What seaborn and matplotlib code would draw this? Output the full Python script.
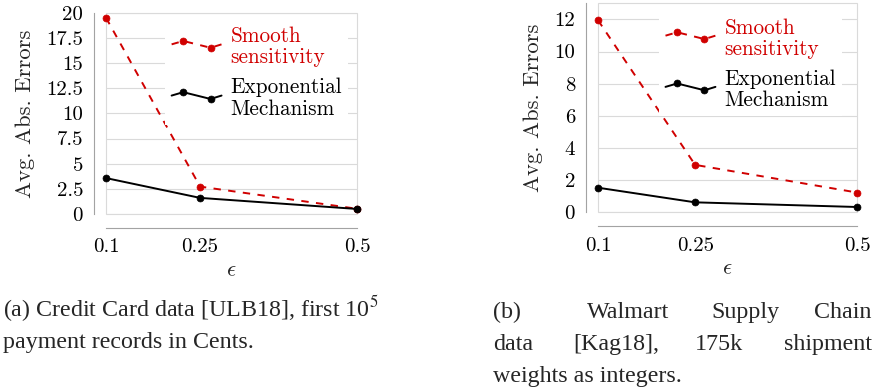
import numpy as np
import pandas as pd
import seaborn as sns
import matplotlib
matplotlib.use("Agg")
import matplotlib.pyplot as plt
from matplotlib.legend_handler import HandlerBase
from matplotlib.lines import Line2D

# ---------------- data ----------------
eps = [0.1, 0.25, 0.5]
eps_labels = ["0.1", "0.25", "0.5"]

cc_smooth = [19.5, 2.72, 0.52]
cc_expo = [3.57, 1.6, 0.5]
wm_smooth = [11.95, 2.95, 1.23]
wm_expo = [1.53, 0.62, 0.33]

cc_yticks = [0, 2.5, 5, 7.5, 10, 12.5, 15, 17.5, 20]
cc_ylabels = ["0", "2.5", "5", "7.5", "10", "12.5", "15", "17.5", "20"]
wm_yticks = [0, 2, 4, 6, 8, 10, 12]
wm_ylabels = ["0", "2", "4", "6", "8", "10", "12"]

series_labels = ["Smooth\nsensitivity", "Exponential\nMechanism"]
ylabel = "Avg. Abs. Errors"
xlabel = r"$\epsilon$"

RED = "#d00000"
BLACK = "#000000"
SPINE = "#a3a3a3"
GRID = "#dadada"

sns.set_theme(style="white")
plt.rcParams["font.family"] = ["cmr10", "DejaVu Serif"]
plt.rcParams["mathtext.fontset"] = "cm"
plt.rcParams["axes.unicode_minus"] = False
plt.rcParams["axes.formatter.use_mathtext"] = True

FS_TICK = 15.0
FS_LEG = 15.3
FS_LAB = 16.3


class ZigzagHandler(HandlerBase):
    def __init__(self, yshift=0.0, **kw):
        super().__init__(**kw)
        self.yshift = yshift

    def create_artists(self, legend, orig_handle, xdescent, ydescent,
                       width, height, fontsize, trans):
        x0 = -xdescent
        yc = -ydescent + height / 2.0 + self.yshift * fontsize
        amp = 0.16 * fontsize
        xs = x0 + width * np.array([0.0, 0.233, 0.78, 1.0])
        ys = yc + amp * np.array([0.0, 1.0, -1.0, 0.0])
        line = Line2D(xs, ys)
        line.update_from(orig_handle)
        line.set_marker("None")
        line.set_transform(trans)
        mk = Line2D(xs[1:3], ys[1:3])
        mk.update_from(orig_handle)
        mk.set_linestyle("None")
        mk.set_transform(trans)
        return [line, mk]


fig = plt.figure(figsize=(8.83, 3.9), dpi=100)
ax1 = fig.add_axes([106 / 883, 1 - 214 / 390, 251 / 883, 201.3 / 390])
ax2 = fig.add_axes([598 / 883, 1 - 212.3 / 390, 259 / 883, 209 / 390])


def style(ax, ylim, yticks, ylabels):
    ax.set_xlim(0.1, 0.5)
    ax.set_ylim(*ylim)
    for s in ["top", "right"]:
        ax.spines[s].set_visible(False)
    ax.spines["left"].set_position(("outward", 12 * 0.72))
    ax.spines["bottom"].set_position(("outward", 13.5 * 0.72))
    ax.spines["left"].set_bounds(*ylim)
    ax.spines["bottom"].set_bounds(0.1, 0.5)
    for s in ["left", "bottom"]:
        ax.spines[s].set_color(SPINE)
        ax.spines[s].set_linewidth(0.8)
    ax.patch.set_facecolor("white")
    ax.patch.set_edgecolor(GRID)
    ax.patch.set_linewidth(0.8)
    ax.set_yticks(yticks, ylabels)
    ax.set_xticks(eps, eps_labels)
    ax.grid(axis="y", color=GRID, lw=0.8)
    ax.grid(axis="x", visible=False)
    ax.set_axisbelow(True)
    ax.tick_params(direction="out", length=3.6, width=0.8, color=SPINE,
                   labelsize=FS_TICK, pad=4.3, labelcolor="black")
    ax.set_ylabel(ylabel, fontsize=FS_LAB, labelpad=8)
    ax.set_xlabel(xlabel, fontsize=FS_LAB, labelpad=3)


def draw(ax, smooth, expo):
    sns.lineplot(x=eps, y=smooth, ax=ax, color=RED, lw=1.4,
                 linestyle=(0, (3.8, 3.8)), marker="o", markersize=5,
                 markeredgecolor=RED, markeredgewidth=0.5, clip_on=False,
                 label=series_labels[0], zorder=3)
    sns.lineplot(x=eps, y=expo, ax=ax, color=BLACK, lw=1.4,
                 marker="o", markersize=5, markeredgecolor=BLACK,
                 markeredgewidth=0.5, clip_on=False,
                 label=series_labels[1], zorder=4)


draw(ax1, cc_smooth, cc_expo)
draw(ax2, wm_smooth, wm_expo)
style(ax1, (0, 20), cc_yticks, cc_ylabels)
style(ax2, (0, 13), wm_yticks, wm_ylabels)

for ax, anchor in [(ax1, (0.236, 0.962)), (ax2, (0.236, 0.96))]:
    handles, labels = ax.get_legend_handles_labels()
    leg = ax.legend(handles, labels, loc="upper left", bbox_to_anchor=anchor,
                    frameon=True, facecolor="white", edgecolor="none",
                    framealpha=1.0, fancybox=False, fontsize=FS_LEG,
                    labelcolor=[RED, BLACK], handlelength=2.35,
                    handletextpad=0.42, borderpad=0.3, borderaxespad=0,
                    labelspacing=0.5,
                    handler_map={Line2D: ZigzagHandler(yshift=0.14)})
    for t in leg.get_texts():
        t.set_linespacing(1.1)
    leg.set_zorder(5)

# ---------------- captions ----------------
CAP = dict(family=["Liberation Serif", "DejaVu Serif"], fontsize=17.3,
           va="baseline", math_fontfamily="stix")


def put(x, y, s, ha="left"):
    fig.text(x / 883, 1 - y / 390, s, ha=ha, **CAP)


put(3, 316.7, r"(a) Credit Card data [ULB18], first 10$^{5}$")
put(3, 348.3, "payment records in Cents.")

put(493, 318.3, "(b)")
put(586.7, 318.3, "Walmart")
put(711.7, 318.3, "Supply")
put(871.7, 318.3, "Chain", ha="right")
put(493, 350, "data")
put(573, 350, "[Kag18],")
put(695, 350, "175k")
put(871.7, 350, "shipment", ha="right")
put(493, 381.7, "weights as integers.")

fig.savefig("out.png", dpi=100)
